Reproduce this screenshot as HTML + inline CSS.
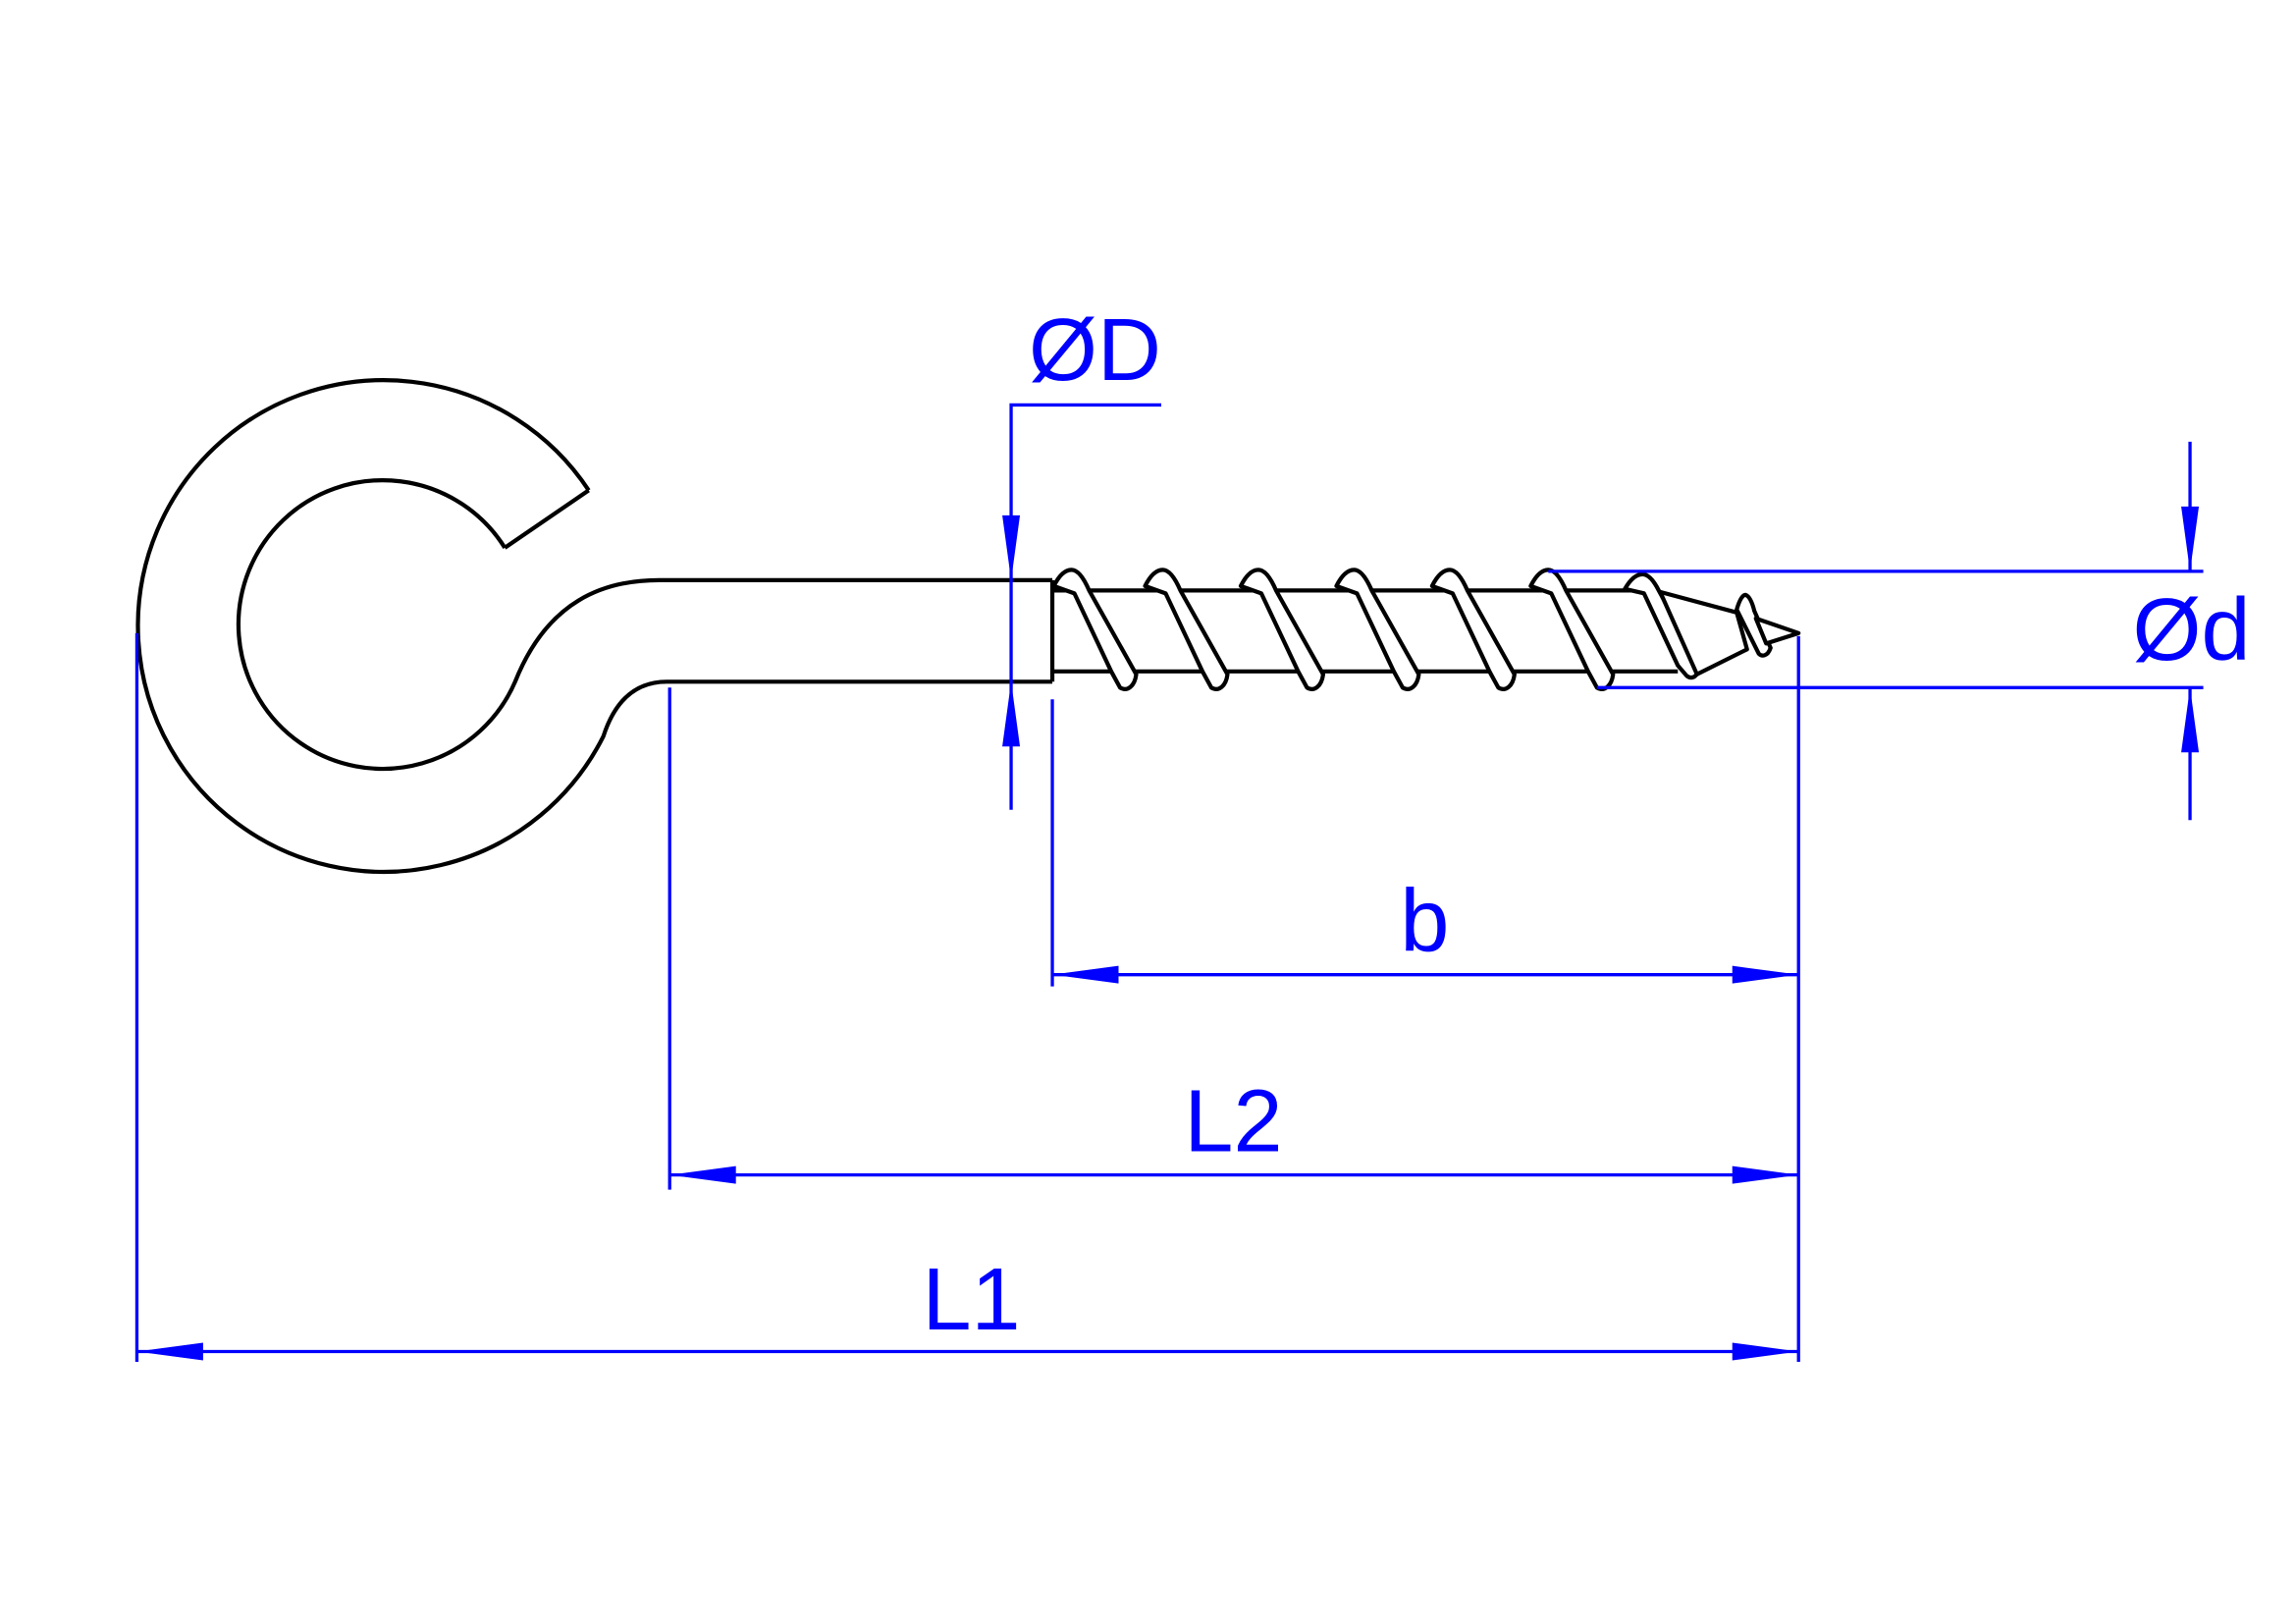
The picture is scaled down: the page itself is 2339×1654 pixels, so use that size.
<!DOCTYPE html>
<html><head><style>html,body{margin:0;padding:0;background:#fff}svg{display:block}</style></head>
<body>
<svg width="2339" height="1654" viewBox="0 0 1560 1103" xmlns="http://www.w3.org/2000/svg">
<rect width="1560" height="1103" fill="#fff"/>
<g fill="none" stroke="#000" stroke-width="2.8" stroke-linejoin="round">
<path d="M400,333 A167,167 0 1 0 410,500 Q422,463 453,463 L715,463"/>
<path d="M343,372 A98,98 0 1 0 350,463 C372,408 410,394 448,394 L715,394"/>
<path d="M400,333 L343,372"/>
<path d="M715,394 L715,463"/>
<path d="M715,401 L1125,401 M715,456 L1140,456"/>
<g fill="#fff">
<path d="M716,398 C720,390 724,387 728,387 C733,387 737,394 740,401 L772,458 C771,466 766,470 761,467 L755,456 L730,403 Z"/>
<path d="M778,398 C782,390 786,387 790,387 C795,387 799,394 802,401 L834,458 C833,466 828,470 823,467 L817,456 L792,403 Z"/>
<path d="M843,398 C847,390 851,387 855,387 C860,387 864,394 867,401 L899,458 C898,466 893,470 888,467 L882,456 L857,403 Z"/>
<path d="M908,398 C912,390 916,387 920,387 C925,387 929,394 932,401 L964,458 C963,466 958,470 953,467 L947,456 L922,403 Z"/>
<path d="M973,398 C977,390 981,387 985,387 C990,387 994,394 997,401 L1029,458 C1028,466 1023,470 1018,467 L1012,456 L987,403 Z"/>
<path d="M1040,398 C1044,390 1048,387 1052,387 C1057,387 1061,394 1064,401 L1096,458 C1095,466 1090,470 1085,467 L1079,456 L1054,403 Z"/>
<path d="M1104,400 C1108,393 1112,390 1116,390 C1121,390 1125,397 1127,401 L1155,452 C1154,459 1150,462 1146,459 L1140,452 L1117,403 Z"/>
<path d="M1128,402 L1180,416 L1187,441 L1153,458 Z"/>
<path d="M1180,414 C1182,407 1184,404 1186,404 C1189,405 1191,411 1192,415 L1203,440 C1201,446 1197,446 1195,444 Z"/>
<path d="M1193,420 L1222,430 L1200,437 Z"/>
</g>
</g>
<g stroke="#0000ff" stroke-width="2.2" fill="none">
<path d="M687,550 L687,275 L789,275"/>
<path d="M1052,388 L1497,388 M1085,467 L1497,467"/>
<path d="M1488,300 L1488,388 M1488,467 L1488,557"/>
<path d="M715,475 L715,670 M1222,432 L1222,925"/>
<path d="M455,467 L455,808 M93,430 L93,925"/>
<path d="M715,662 L1222,662 M455,798 L1222,798 M93,918 L1222,918"/>
</g>
<g fill="#0000ff">
<path d="M687,394 L681,350 L693,350 Z"/>
<path d="M687,463 L681,507 L693,507 Z"/>
<path d="M1488,388 L1482,344 L1494,344 Z"/>
<path d="M1488,467 L1482,511 L1494,511 Z"/>
<path d="M715,662 L760,656 L760,668 Z"/>
<path d="M1222,662 L1177,656 L1177,668 Z"/>
<path d="M455,798 L500,792 L500,804 Z"/>
<path d="M1222,798 L1177,792 L1177,804 Z"/>
<path d="M93,918 L138,912 L138,924 Z"/>
<path d="M1222,918 L1177,912 L1177,924 Z"/>
</g>
<g fill="#0000ff" font-family="Liberation Sans, sans-serif" font-size="60">
<text x="744" y="258" text-anchor="middle">ØD</text>
<text x="1489" y="448" text-anchor="middle">Ød</text>
<text x="968" y="646" text-anchor="middle">b</text>
<text x="838" y="782" text-anchor="middle">L2</text>
<text x="660" y="903" text-anchor="middle">L1</text>
</g>
</svg>
</body></html>
